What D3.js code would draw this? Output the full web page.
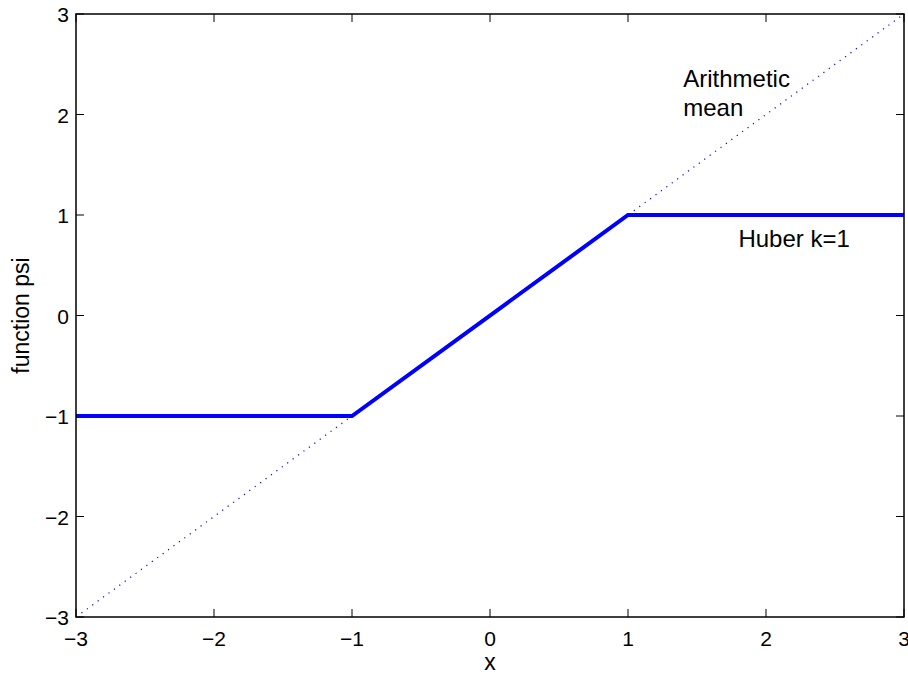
<!DOCTYPE html>
<html>
<head>
<meta charset="utf-8">
<script src="https://cdn.jsdelivr.net/npm/d3@7"></script>
<style>
body { margin: 0; background: #fff; }
text { font-family: "Liberation Sans", Arial, sans-serif; }
</style>
</head>
<body>
<div id="plot"></div>
<script>
var xTicks = [-3, -2, -1, 0, 1, 2, 3];
var yTicks = [-3, -2, -1, 0, 1, 2, 3];
var meanX = [-3, 3];
var meanY = [-3, 3];
var huberX = [-3, -1, 1, 3];
var huberY = [-1, -1, 1, 1];
var labels = [
    {text: "Arithmetic", x: 1.40, y: 2.27},
    {text: "mean", x: 1.40, y: 1.99},
    {text: "Huber k=1", x: 1.80, y: 0.68}
];

var drawPlot = function(){
    var width = 908, height = 677;
    var pLeft = 76, pRight = 904, pTop = 14, pBottom = 617;

    var svg = d3.select("#plot").append("svg")
        .attr("width", width).attr("height", height);

    var xScale = d3.scaleLinear().domain([-3, 3]).range([pLeft, pRight]);
    var yScale = d3.scaleLinear().domain([-3, 3]).range([pBottom, pTop]);

    var fmt = function(d){ return d < 0 ? "\u2212" + Math.abs(d) : String(d); };

    // ticks inside on all four sides
    var tl = 8;
    xTicks.forEach(function(t){
        var x = xScale(t);
        svg.append("line").attr("x1", x).attr("x2", x).attr("y1", pBottom).attr("y2", pBottom - tl)
            .attr("stroke", "black").attr("stroke-width", 1);
        svg.append("line").attr("x1", x).attr("x2", x).attr("y1", pTop).attr("y2", pTop + tl)
            .attr("stroke", "black").attr("stroke-width", 1);
        svg.append("text").attr("x", x).attr("y", pBottom + 29)
            .attr("text-anchor", "middle").style("font-size", "21px").text(fmt(t));
    });
    yTicks.forEach(function(t){
        var y = yScale(t);
        svg.append("line").attr("x1", pLeft).attr("x2", pLeft + tl).attr("y1", y).attr("y2", y)
            .attr("stroke", "black").attr("stroke-width", 1);
        svg.append("line").attr("x1", pRight).attr("x2", pRight - tl).attr("y1", y).attr("y2", y)
            .attr("stroke", "black").attr("stroke-width", 1);
        svg.append("text").attr("x", pLeft - 7).attr("y", y + 8)
            .attr("text-anchor", "end").style("font-size", "21px").text(fmt(t));
    });

    var line = d3.line().x(function(d){ return xScale(d[0]); }).y(function(d){ return yScale(d[1]); });

    // arithmetic mean: dotted diagonal
    svg.append("path").datum(d3.zip(meanX, meanY))
        .attr("d", line).attr("fill", "none")
        .attr("stroke", "#0000ff").attr("stroke-width", 1.2)
        .attr("stroke-dasharray", "1.2,5.5");

    // huber psi
    svg.append("path").datum(d3.zip(huberX, huberY))
        .attr("d", line).attr("fill", "none")
        .attr("stroke", "#0000ff").attr("stroke-width", 4);

    // box
    svg.append("rect").attr("x", pLeft).attr("y", pTop)
        .attr("width", pRight - pLeft).attr("height", pBottom - pTop)
        .attr("fill", "none").attr("stroke", "black").attr("stroke-width", 1.5);

    svg.selectAll(".lab").data(labels).enter().append("text")
        .attr("x", function(d){ return xScale(d.x); })
        .attr("y", function(d){ return yScale(d.y); })
        .style("font-size", "24px")
        .text(function(d){ return d.text; });

    svg.append("text").attr("x", (pLeft + pRight) / 2).attr("y", 670)
        .attr("text-anchor", "middle").style("font-size", "23px").text("x");

    svg.append("text")
        .attr("transform", "translate(29," + ((pTop + pBottom) / 2) + ") rotate(-90)")
        .attr("text-anchor", "middle").style("font-size", "23px").text("function psi");
};
drawPlot();
</script>
</body>
</html>
